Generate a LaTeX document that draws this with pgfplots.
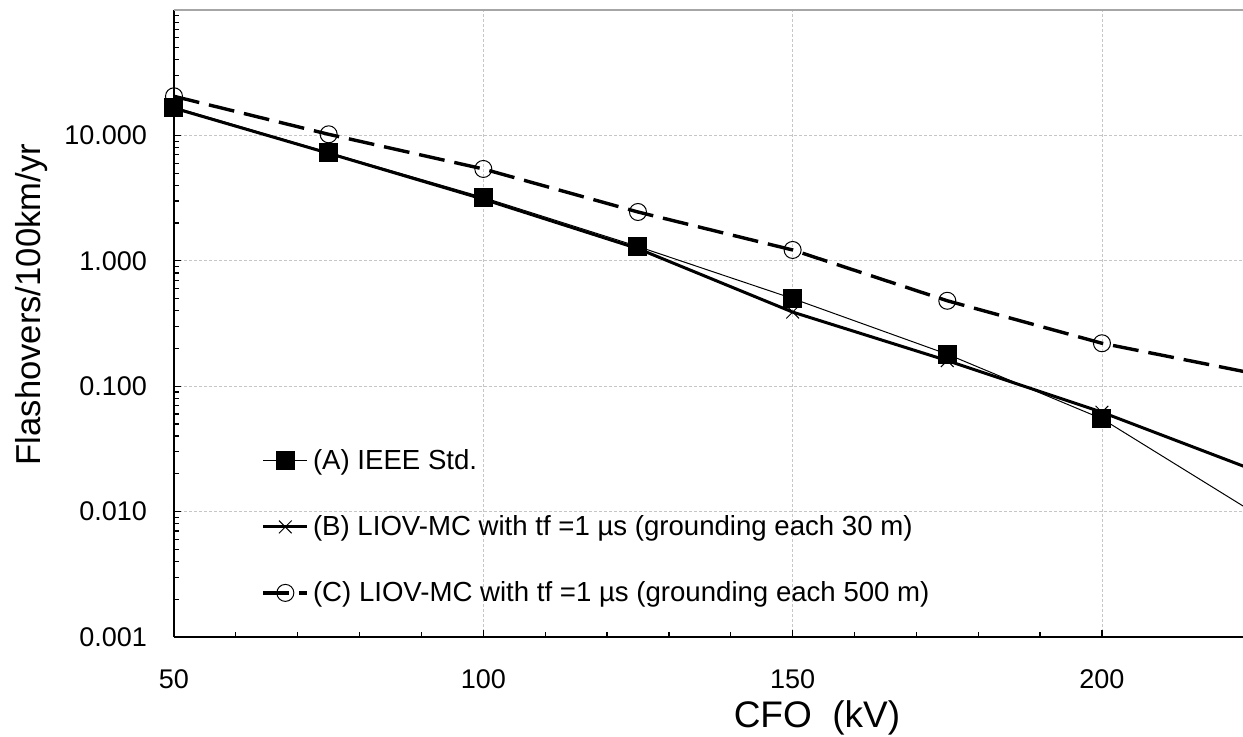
\documentclass[border=0pt]{standalone}
\usepackage{pgfplots}
\pgfplotsset{compat=1.18}
\usepackage{fontspec}
\setmainfont{Liberation Sans}
\begin{document}
\begin{tikzpicture}
\begin{axis}[
  scale only axis, width=534.5pt, height=313.5pt,
  ymode=log, xmin=50, xmax=222.8, ymin=0.001, ymax=100,
  axis x line*=bottom, axis y line*=left,
  axis line style={line width=1.2pt,-},
  xtick={50,100,150,200}, minor x tick num=4,
  ytick={0.001,0.01,0.1,1,10,100},
  yticklabels={0.001,0.010,0.100,1.000,10.000,{}},
  tick align=inside, major tick length=3.5pt, minor tick length=2.5pt,
  tick style={black, line width=0.6pt},
  grid=major, major grid style={gray!45, dash pattern=on 1.5pt off 1pt, line width=0.4pt},
  /pgf/number format/assume math mode=true,
  ticklabel style={font=\fontsize{13.5}{16}\selectfont},
  xticklabel style={yshift=-13pt},
  yticklabel style={xshift=-10pt},
  xlabel={CFO\ \ (kV)}, ylabel={Flashovers/100km/yr},
  xlabel style={font=\fontsize{18.5}{22}\selectfont, at={(rel axis cs:0.6015,-0.1292)}, anchor=center},
  ylabel style={font=\fontsize{17.3}{21}\selectfont, at={(rel axis cs:-0.1328,0.53)}, anchor=center},
  legend style={draw=none, fill=none, at={(rel axis cs:0.076,0.3126)}, anchor=north west,
    font=\fontsize{13.8}{16}\selectfont, row sep=17.5pt, cells={anchor=west}},
  legend image code/.code={\draw[mark repeat=2,mark phase=2] plot coordinates {(0pt,0pt) (11pt,0pt) (22pt,0pt)};},
]
\addplot[black, line width=0.5pt, mark=square*, mark size=4.5pt, mark options={solid}]
  coordinates {(50,16.8) (75,7.3) (100,3.2) (125,1.3) (150,0.5) (175,0.18) (200,0.055) (225,0.0095)};
\addlegendentry{(A) IEEE Std.}
\addplot[black, line width=1.5pt, mark=x, mark size=4.5pt, mark options={solid, line width=0.5pt}]
  coordinates {(50,16.5) (75,7.2) (100,3.1) (125,1.25) (150,0.39) (175,0.16) (200,0.062) (225,0.021)};
\addlegendentry{(B) LIOV-MC with tf =1 µs (grounding each 30 m)}
\addplot[black, line width=1.7pt, dash pattern=on 13pt off 5pt, mark=o, mark size=4.25pt, mark options={solid, line width=0.5pt}]
  coordinates {(50,20.5) (75,10.2) (100,5.4) (125,2.45) (150,1.22) (175,0.48) (200,0.22) (225,0.125)};
\addlegendentry{(C) LIOV-MC with tf =1 µs (grounding each 500 m)}
\end{axis}
\draw[gray!70, line width=1pt] (current axis.north west) -- (current axis.north east);
\pgfresetboundingbox
\useasboundingbox ([shift={(-87pt,-50pt)}]current axis.south west) rectangle ([shift={(0pt,5pt)}]current axis.north east);
\end{tikzpicture}
\end{document}
